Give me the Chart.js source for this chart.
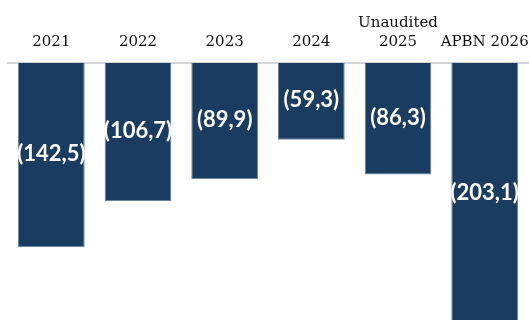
<!DOCTYPE html>
<html>
<head>
<meta charset="utf-8">
<script src="https://cdn.jsdelivr.net/npm/chart.js@4.4.1/dist/chart.umd.min.js"></script>
<style>
  html, body { margin: 0; padding: 0; background: #fff; }
  #wrap { width: 529px; height: 320px; position: relative; }
</style>
</head>
<body>
<div id="wrap"><canvas id="deficitChart"></canvas></div>
<script>
const categories = ["2021", "2022", "2023", "2024", ["Unaudited", "2025"], "APBN 2026"];
const deficitValues = [-142.5, -106.7, -89.9, -59.3, -86.3, -203.1];
const valueLabels = ["(142,5)", "(106,7)", "(89,9)", "(59,3)", "(86,3)", "(203,1)"];

// draws the value text in the middle of each bar
const barLabels = {
  id: "barLabels",
  afterDatasetsDraw(chart) {
    const ctx = chart.ctx;
    const meta = chart.getDatasetMeta(0);
    ctx.save();
    ctx.fillStyle = "#ffffff";
    ctx.font = "bold 22px Lato";
    ctx.textAlign = "center";
    ctx.textBaseline = "middle";
    meta.data.forEach((bar, i) => {
      const mid = (bar.y + bar.base) / 2;
      ctx.fillText(valueLabels[i], bar.x, mid - 1);
    });
    ctx.restore();
  }
};

const ctx = document.getElementById("deficitChart").getContext("2d");
new Chart(ctx, {
  type: "bar",
  data: {
    labels: categories,
    datasets: [{
      data: deficitValues,
      backgroundColor: "#1a3c61",
      borderColor: "#6f86a0",
      borderWidth: 1,
      barPercentage: 0.77,
      categoryPercentage: 1.0
    }]
  },
  options: {
    responsive: true,
    maintainAspectRatio: false,
    animation: false,
    layout: { padding: { left: 8, right: 1, top: 0, bottom: 0 } },
    plugins: {
      legend: { display: false },
      tooltip: { enabled: false }
    },
    scales: {
      x: {
        position: "top",
        z: 1,
        grid: { display: false, drawTicks: false },
        border: { display: true, color: "#d4d4d4", width: 2 },
        ticks: {
          color: "#111111",
          padding: 11,
          maxRotation: 0,
          autoSkip: false,
          font: { family: "DejaVu Serif", size: 15, lineHeight: 1.27 }
        },
        afterFit: scale => {
          scale.height = 63;
          scale.paddingLeft = 0;
          scale.paddingRight = 0;
        }
      },
      y: {
        display: false,
        min: -198.8,
        max: 0
      }
    }
  },
  plugins: [barLabels]
});
</script>
</body>
</html>
